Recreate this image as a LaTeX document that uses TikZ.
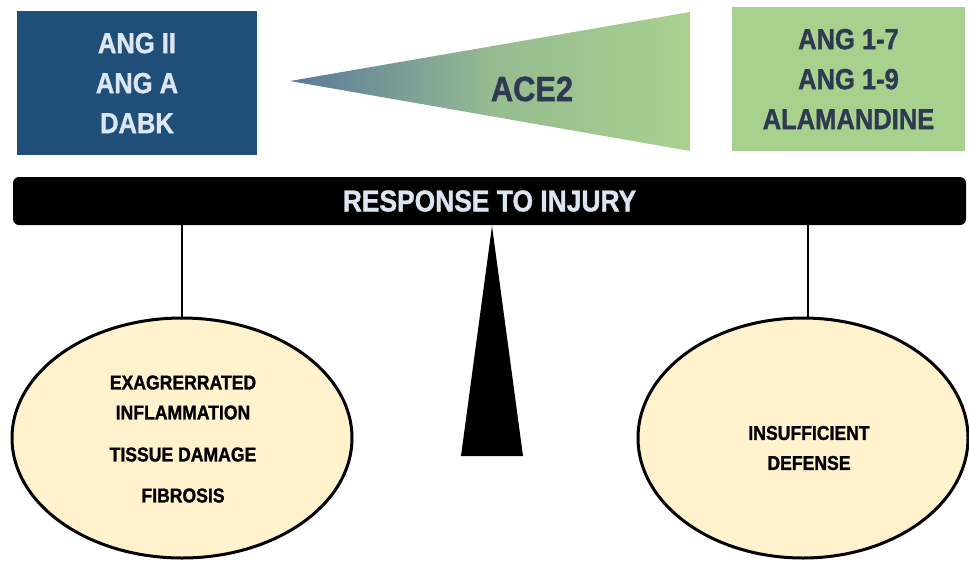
\documentclass[tikz,border=0pt]{standalone}
\usepackage{fontspec}
\setmainfont{Liberation Sans}
\newfontfamily\heavy{Liberation Sans}[FakeStretch=0.88, BoldFeatures={FakeBold=1.2}]
\usetikzlibrary{shapes.geometric}
\definecolor{boxblue}{RGB}{31,78,121}
\definecolor{lighttext}{RGB}{220,230,242}
\definecolor{boxgreen}{RGB}{169,209,142}
\definecolor{darktext}{RGB}{47,58,82}
\definecolor{tipblue}{RGB}{90,120,155}
\definecolor{ellfill}{RGB}{255,242,204}
\tikzset{
  topbox/.style={rectangle, inner sep=0pt, align=center, font=\heavy\bfseries\fontsize{29}{40}\selectfont},
  outcome/.style={ellipse, draw=black, line width=3pt, fill=ellfill, inner sep=0pt},
  outtext/.style={align=center, font=\heavy\bfseries\fontsize{20}{30}\selectfont, text=black},
  link/.style={line width=2pt, black},
}
\begin{document}
\begin{tikzpicture}[x=1pt,y=-1pt]
\useasboundingbox (0,0) rectangle (969,560);
% left box
\node[topbox, fill=boxblue, text=lighttext, minimum width=240pt, minimum height=144pt] (left) at (137,83) {ANG II\\ANG A\\DABK};
% right box
\node[topbox, fill=boxgreen, text=darktext, minimum width=233pt, minimum height=144pt] (right) at (848.5,79) {ANG 1-7\\ANG 1-9\\ALAMANDINE};
% wedge
\coordinate (tip) at (290,81);
\coordinate (wt) at (690,12);
\coordinate (wb) at (690,151);
\shade[left color=tipblue, right color=boxgreen, middle color=boxgreen!75!tipblue] (tip) -- (wt) -- (wb) -- cycle;
\node[font=\heavy\bfseries\fontsize{35}{35}\selectfont, text=darktext] (ace) at (532,89) {ACE2};
% bar
\node[rectangle, rounded corners=6pt, fill=black, minimum width=953pt, minimum height=48pt, inner sep=0pt, text=lighttext, font=\heavy\bfseries\fontsize{30}{30}\selectfont] (bar) at (489.5,201) {RESPONSE TO INJURY};
% fulcrum
\coordinate (apex) at (492,226);
\coordinate (bl) at (461,456);
\coordinate (br) at (523,456);
\fill[black, line join=round] (apex) -- (br) -- (bl) -- cycle;
% ellipses
\node[outcome, minimum width=340pt, minimum height=240pt] (lell) at (182,438) {};
\node[outcome, minimum width=330pt, minimum height=240pt] (rell) at (803,438) {};
\node[outtext] (ltext) at (183,439) {EXAGRERRATED\\INFLAMMATION\\[12pt]TISSUE DAMAGE\\[11pt]FIBROSIS};
\node[outtext] (rtext) at (809,448) {INSUFFICIENT\\DEFENSE};
% connectors
\draw[link] (lell.north) -- (lell.north |- bar.south);
\draw[link] (808,318) coordinate (rtop) -- (rtop |- bar.south);
\end{tikzpicture}
\end{document}
